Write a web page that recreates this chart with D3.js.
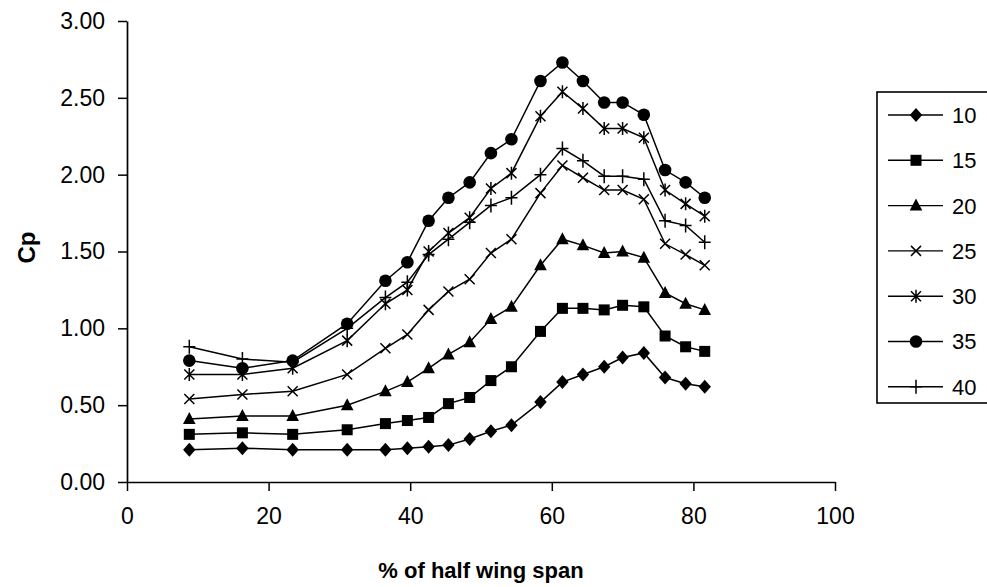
<!DOCTYPE html>
<html>
<head>
<meta charset="utf-8">
<script src="https://cdn.jsdelivr.net/npm/d3@7"></script>
<style>
  html, body { margin: 0; padding: 0; background: #fff; }
  svg { display: block; font-family: "Liberation Sans", Arial, sans-serif; }
</style>
</head>
<body>
<svg id="chart" width="987" height="587"></svg>
<script>
// Spanwise stations (% of half wing span)
const span = [8.8, 16.3, 23.4, 31.1, 36.5, 39.6, 42.6, 45.4, 48.4, 51.4,
              54.3, 58.4, 61.5, 64.4, 67.4, 70.0, 73.0, 76.0, 78.9, 81.6];

// Pressure coefficient per angle setting
const cp10 = [0.21, 0.22, 0.21, 0.21, 0.21, 0.22, 0.23, 0.24, 0.28, 0.33,
              0.37, 0.52, 0.65, 0.70, 0.75, 0.81, 0.84, 0.68, 0.64, 0.62];
const cp15 = [0.31, 0.32, 0.31, 0.34, 0.38, 0.40, 0.42, 0.51, 0.55, 0.66,
              0.75, 0.98, 1.13, 1.13, 1.12, 1.15, 1.14, 0.95, 0.88, 0.85];
const cp20 = [0.41, 0.43, 0.43, 0.50, 0.59, 0.65, 0.74, 0.83, 0.91, 1.06,
              1.14, 1.41, 1.58, 1.54, 1.49, 1.50, 1.46, 1.23, 1.16, 1.12];
const cp25 = [0.54, 0.57, 0.59, 0.70, 0.87, 0.96, 1.12, 1.24, 1.32, 1.49,
              1.58, 1.88, 2.06, 1.98, 1.90, 1.90, 1.84, 1.55, 1.48, 1.41];
const cp30 = [0.70, 0.70, 0.74, 0.92, 1.16, 1.25, 1.50, 1.62, 1.72, 1.91,
              2.01, 2.38, 2.54, 2.43, 2.30, 2.30, 2.24, 1.90, 1.81, 1.73];
const cp35 = [0.79, 0.74, 0.79, 1.03, 1.31, 1.43, 1.70, 1.85, 1.95, 2.14,
              2.23, 2.61, 2.73, 2.61, 2.47, 2.47, 2.39, 2.03, 1.95, 1.85];
const cp40 = [0.88, 0.80, 0.78, 1.00, 1.20, 1.30, 1.48, 1.58, 1.69, 1.80,
              1.85, 2.00, 2.17, 2.09, 1.99, 1.99, 1.97, 1.70, 1.67, 1.56];

const seriesNames = ["10", "15", "20", "25", "30", "35", "40"];
const seriesValues = [cp10, cp15, cp20, cp25, cp30, cp35, cp40];
const markerTypes = ["diamond", "square", "triangle", "cross", "asterisk", "circle", "plus"];

const xTicks = [0, 20, 40, 60, 80, 100];
const yTicks = [0, 0.5, 1.0, 1.5, 2.0, 2.5, 3.0];

const xTitle = "% of half wing span";
const yTitle = "Cp";

const svg = d3.select("#chart");

const x = d3.scaleLinear().domain([0, 100]).range([127, 835]);
const y = d3.scaleLinear().domain([0, 3]).range([482, 21]);

// Axes
const xAxis = d3.axisBottom(x).tickValues(xTicks).tickFormat(d3.format("d"))
  .tickSizeInner(9).tickSizeOuter(0).tickPadding(17);
const yAxis = d3.axisLeft(y).tickValues(yTicks).tickFormat(d3.format(".2f"))
  .tickSizeInner(9).tickSizeOuter(0).tickPadding(13);

const gx = svg.append("g").attr("transform", `translate(0,${y(0)})`).call(xAxis);
const gy = svg.append("g").attr("transform", `translate(${x(0)},0)`).call(yAxis);

[gx, gy].forEach(g => {
  g.select(".domain").attr("stroke", "#000").attr("stroke-width", 1.7);
  g.selectAll(".tick line").attr("stroke", "#000").attr("stroke-width", 1.5);
  g.selectAll(".tick text").attr("fill", "#000").attr("font-size", 23)
    .attr("font-family", "'Liberation Sans', Arial, sans-serif");
});

// Axis titles
svg.append("text")
  .attr("x", (x(0) + x(100)) / 2)
  .attr("y", 578)
  .attr("text-anchor", "middle")
  .attr("font-size", 22)
  .attr("font-weight", "bold")
  .text(xTitle);

svg.append("text")
  .attr("transform", `translate(35,${(y(0) + y(3)) / 2 - 4}) rotate(-90)`)
  .attr("text-anchor", "middle")
  .attr("font-size", 24)
  .attr("font-weight", "bold")
  .text(yTitle);

// Marker drawing
function drawMarker(g, type) {
  switch (type) {
    case "diamond":
      g.append("path").attr("d", "M0,-7L6.2,0L0,7L-6.2,0Z").attr("fill", "#000");
      break;
    case "square":
      g.append("rect").attr("x", -5.5).attr("y", -5.5).attr("width", 11).attr("height", 11).attr("fill", "#000");
      break;
    case "triangle":
      g.append("path").attr("d", "M0,-7L6.3,5L-6.3,5Z").attr("fill", "#000");
      break;
    case "circle":
      g.append("circle").attr("r", 6.3).attr("fill", "#000");
      break;
    case "cross":
      g.append("path").attr("d", "M-5,-5L5,5M-5,5L5,-5")
        .attr("stroke", "#000").attr("stroke-width", 1.5).attr("fill", "none");
      break;
    case "asterisk":
      g.append("path").attr("d", "M-5,-5L5,5M-5,5L5,-5M0,-6.5L0,6.5")
        .attr("stroke", "#000").attr("stroke-width", 1.5).attr("fill", "none");
      break;
    case "plus":
      g.append("path").attr("d", "M0,-7L0,7M-6,0L6,0")
        .attr("stroke", "#000").attr("stroke-width", 1.5).attr("fill", "none");
      break;
  }
}

const line = d3.line().x(d => x(d[0])).y(d => y(d[1]));

seriesValues.forEach((vals, i) => {
  const pts = span.map((s, j) => [s, vals[j]]);
  const g = svg.append("g").attr("class", "series");
  g.append("path").datum(pts).attr("d", line)
    .attr("fill", "none").attr("stroke", "#000").attr("stroke-width", 1.5);
  pts.forEach(p => {
    const m = g.append("g").attr("transform", `translate(${x(p[0])},${y(p[1])})`);
    drawMarker(m, markerTypes[i]);
  });
});

// Legend
const legend = svg.append("g");
legend.append("rect")
  .attr("x", 877).attr("y", 92).attr("width", 130).attr("height", 311)
  .attr("fill", "#fff").attr("stroke", "#000").attr("stroke-width", 1.6);

seriesNames.forEach((name, i) => {
  const cy = 115 + i * 45.3;
  const item = legend.append("g").attr("transform", `translate(0,${cy})`);
  item.append("line").attr("x1", 888).attr("x2", 943).attr("y1", 0).attr("y2", 0)
    .attr("stroke", "#000").attr("stroke-width", 1.4);
  const m = item.append("g").attr("transform", "translate(916,0)");
  drawMarker(m, markerTypes[i]);
  item.append("text").attr("x", 952).attr("y", 0).attr("dy", "0.36em")
    .attr("font-size", 22).text(name);
});
</script>
</body>
</html>
